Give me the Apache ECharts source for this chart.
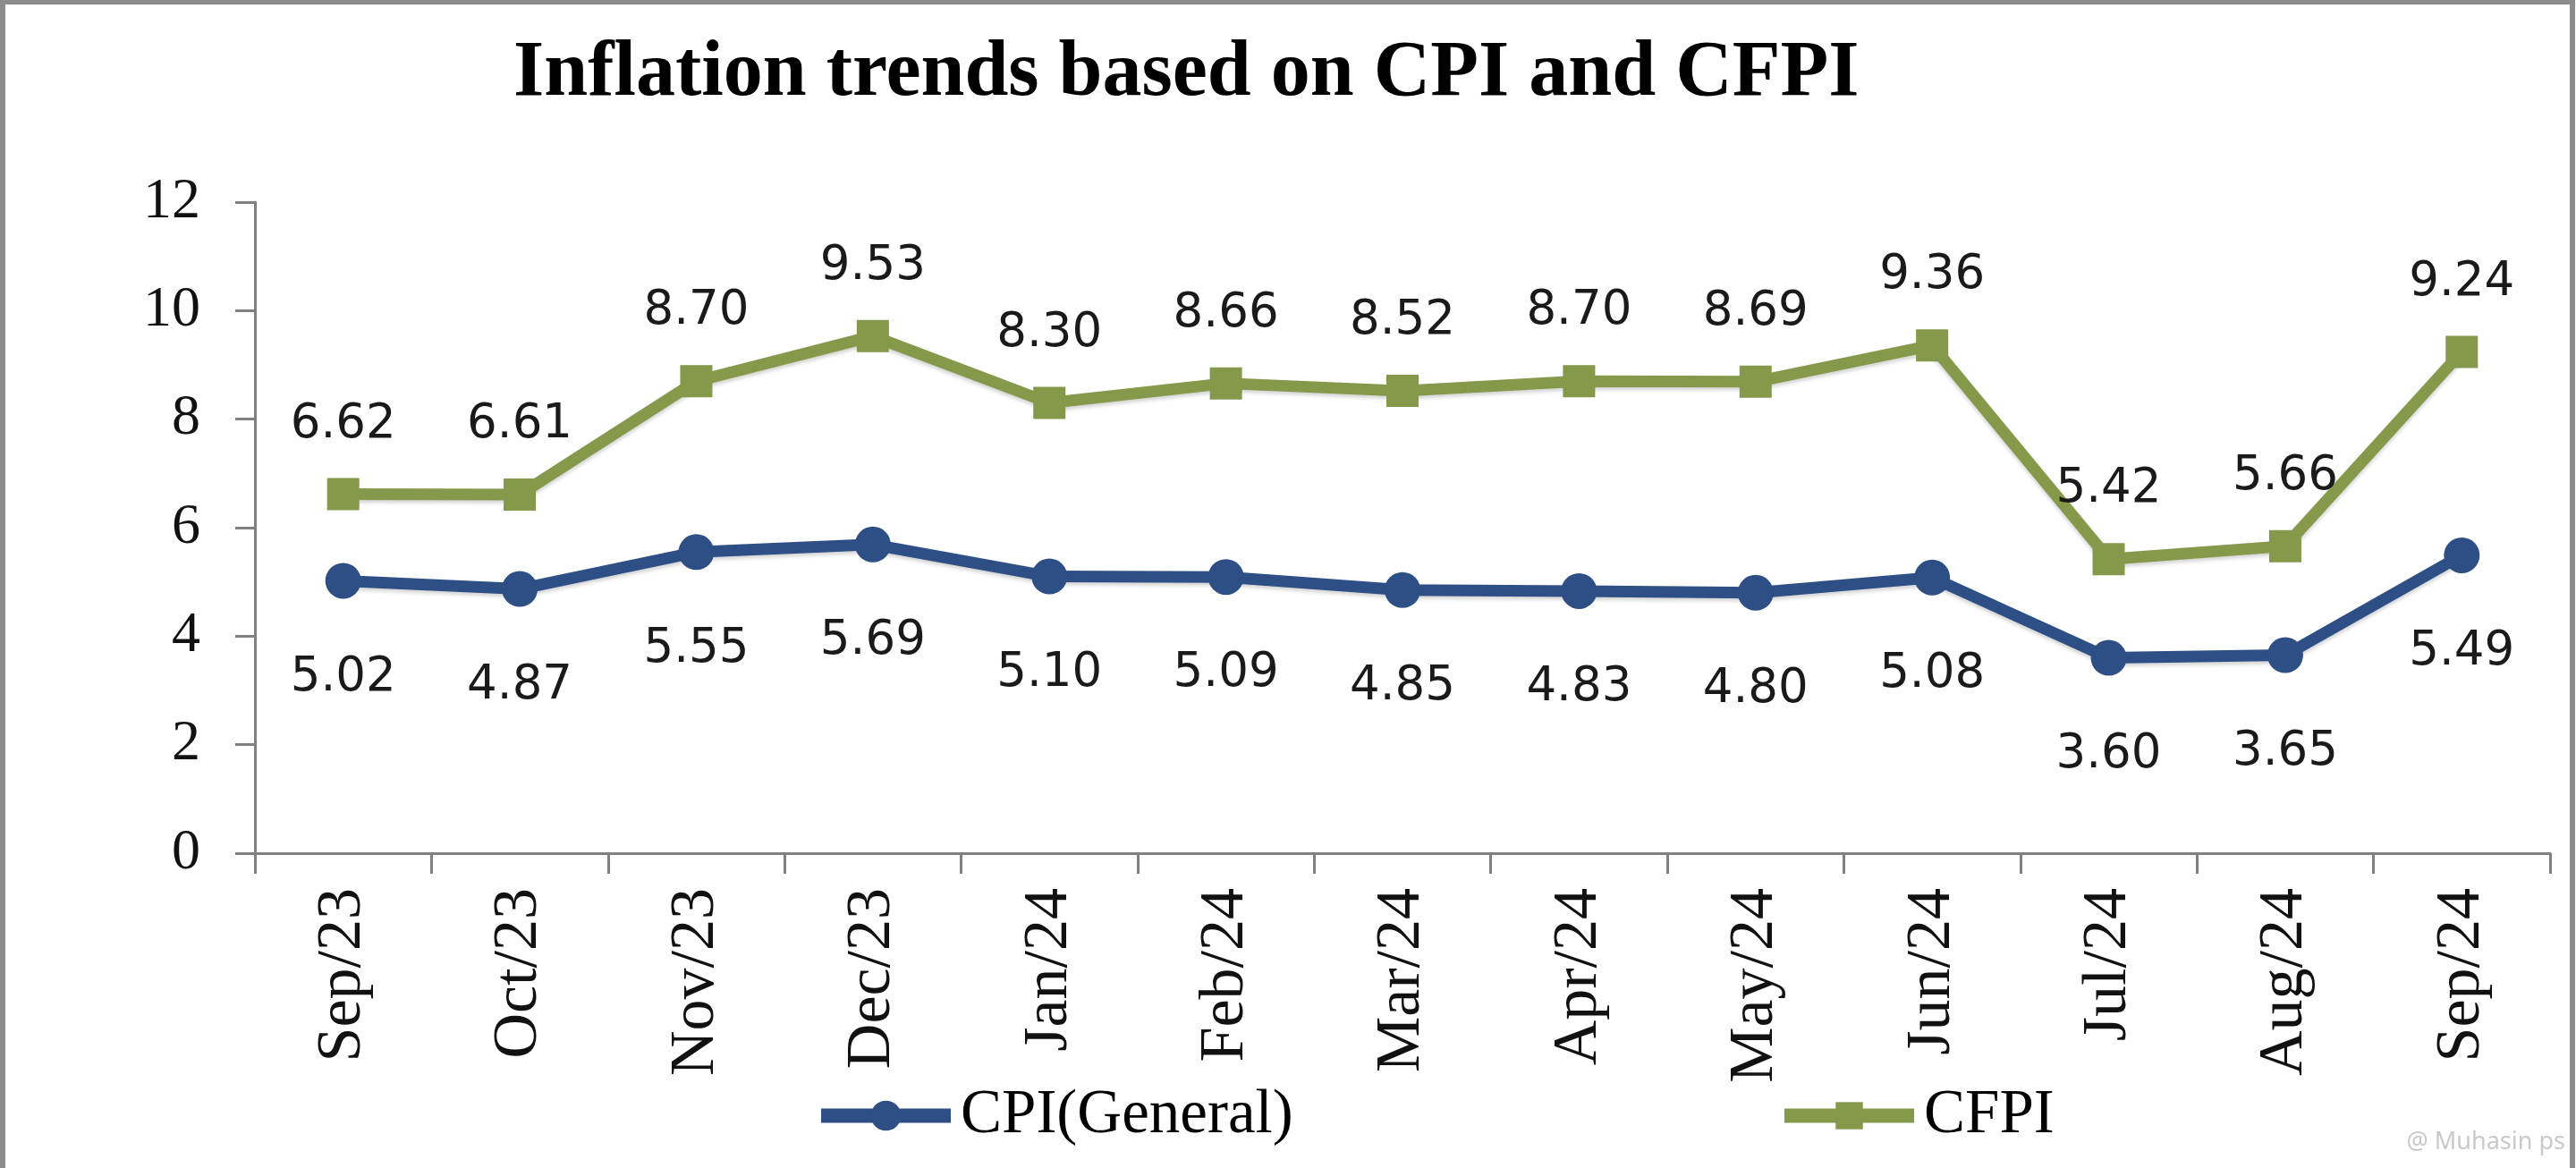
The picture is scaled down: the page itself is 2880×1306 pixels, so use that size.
<!DOCTYPE html>
<html>
<head>
<meta charset="utf-8">
<script src="https://cdn.jsdelivr.net/npm/echarts@6/dist/echarts.min.js"></script>
<style>
html,body{margin:0;padding:0;background:#fff;}
#chart{width:2880px;height:1306px;}
</style>
</head>
<body>
<div id="chart"></div>
<script>
const categories = ['Sep/23','Oct/23','Nov/23','Dec/23','Jan/24','Feb/24','Mar/24','Apr/24','May/24','Jun/24','Jul/24','Aug/24','Sep/24'];
const cpiGeneral = [5.02, 4.87, 5.55, 5.69, 5.10, 5.09, 4.85, 4.83, 4.80, 5.08, 3.60, 3.65, 5.49];
const cfpi = [6.62, 6.61, 8.70, 9.53, 8.30, 8.66, 8.52, 8.70, 8.69, 9.36, 5.42, 5.66, 9.24];
const yTicks = {min: 0, max: 12, interval: 2};

const BLUE = '#2E4F85';
const GREEN = '#86994A';
const SERIF = '"Liberation Serif", "DejaVu Serif", serif';

const chart = echarts.init(document.getElementById('chart'));
chart.setOption({
  backgroundColor: '#ffffff',
  animation: false,
  title: {
    text: 'Inflation trends based on CPI and CFPI',
    left: 569,
    top: 34,
    textStyle: {fontFamily: SERIF, fontWeight: 'bold', fontSize: 88, color: '#000'}
  },
  graphic: [
    {type: 'rect', shape: {x: 3, y: 2, width: 2873, height: 1330}, style: {fill: 'none', stroke: '#8c8c8c', lineWidth: 6}, silent: true},
    {type: 'text', right: 12, top: 1264, style: {text: '@ Muhasin ps', fontFamily: '"Noto Sans", sans-serif', fontSize: 27, fill: '#c9c9c9'}, silent: true}
  ],
  grid: {left: 285, right: 29, top: 226, bottom: 352, containLabel: false},
  legend: [
    {
      data: ['CPI(General)'], left: 905, top: 1208, itemWidth: 145, itemHeight: 42,
      lineStyle: {width: 16},
      textStyle: {fontFamily: SERIF, fontSize: 69, color: '#000', padding: [0, 0, 0, 6]}
    },
    {
      data: ['CFPI'], left: 1982, top: 1208, itemWidth: 145, itemHeight: 38,
      lineStyle: {width: 16},
      textStyle: {fontFamily: SERIF, fontSize: 69, color: '#000', padding: [0, 0, 0, 6]}
    }
  ],
  xAxis: {
    type: 'category',
    data: categories,
    boundaryGap: true,
    axisLine: {lineStyle: {color: '#808080', width: 3}},
    axisTick: {show: true, length: 23, lineStyle: {color: '#808080', width: 3}},
    axisLabel: {
      rotate: 90, margin: 39, interval: 0,
      fontFamily: SERIF, fontSize: 70, color: '#111'
    },
    splitLine: {show: false}
  },
  yAxis: {
    type: 'value',
    min: yTicks.min, max: yTicks.max, interval: yTicks.interval,
    axisLine: {show: true, lineStyle: {color: '#808080', width: 3}},
    axisTick: {show: true, length: 22, lineStyle: {color: '#808080', width: 3}},
    axisLabel: {margin: 61, fontFamily: SERIF, fontSize: 64, color: '#111'},
    splitLine: {show: false}
  },
  series: [
    {
      name: 'CPI(General)',
      type: 'line',
      data: cpiGeneral,
      symbol: 'circle',
      symbolSize: 40,
      itemStyle: {color: BLUE},
      lineStyle: {color: BLUE, width: 13, shadowColor: 'rgba(0,0,0,0.18)', shadowBlur: 4, shadowOffsetY: 3},
      label: {
        show: true, position: 'bottom', distance: 62,
        formatter: p => p.value.toFixed(2),
        fontFamily: '"DejaVu Sans", sans-serif', fontSize: 53, color: '#1a1a1a'
      }
    },
    {
      name: 'CFPI',
      type: 'line',
      data: cfpi,
      symbol: 'rect',
      symbolSize: 36,
      itemStyle: {color: GREEN},
      lineStyle: {color: GREEN, width: 13, shadowColor: 'rgba(0,0,0,0.18)', shadowBlur: 4, shadowOffsetY: 3},
      label: {
        show: true, position: 'top', distance: 33,
        formatter: p => p.value.toFixed(2),
        fontFamily: '"DejaVu Sans", sans-serif', fontSize: 53, color: '#1a1a1a'
      }
    }
  ]
});
</script>
</body>
</html>
